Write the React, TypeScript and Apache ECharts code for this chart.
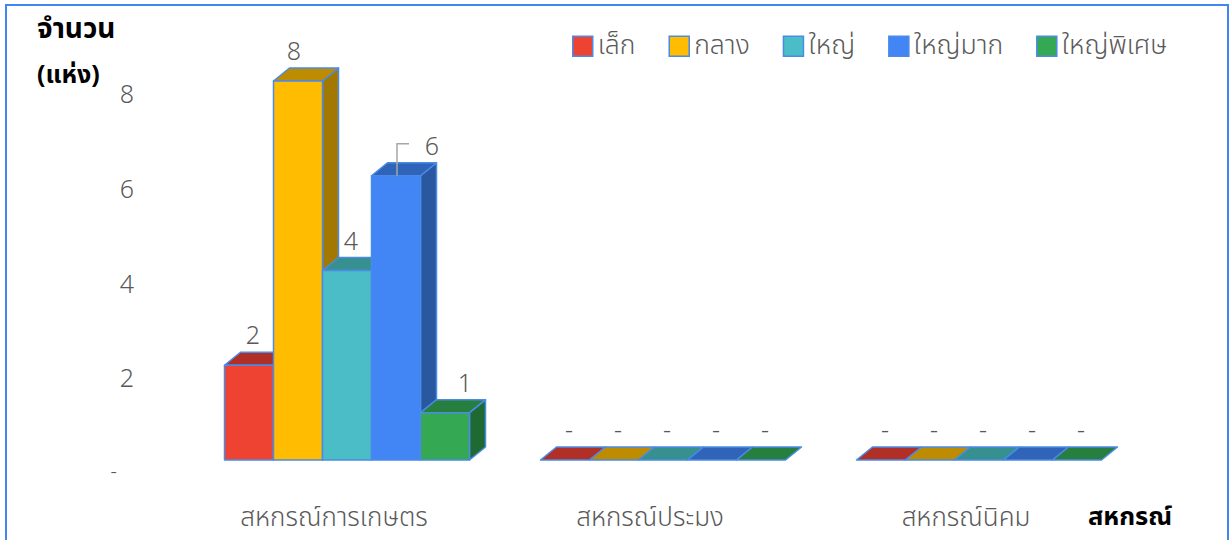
import React, { useEffect, useRef } from "react";
import * as echarts from "echarts";

const categories = ["สหกรณ์การเกษตร", "สหกรณ์ประมง", "สหกรณ์นิคม"];
const levels = ["เล็ก", "กลาง", "ใหญ่", "ใหญ่มาก", "ใหญ่พิเศษ"];
const small = [2, 0, 0];
const medium = [8, 0, 0];
const large = [4, 0, 0];
const veryLarge = [6, 0, 0];
const extraLarge = [1, 0, 0];
const seriesValues = [small, medium, large, veryLarge, extraLarge];
const yTicks = [0, 2, 4, 6, 8];

const FONT = '"Noto Sans Thai", "Noto Sans", "Noto Sans CJK SC", sans-serif';
const frontColors = ["#EE4332", "#FFBC00", "#4ABDC6", "#4285F4", "#34A853"];
const topColors = ["#B02F27", "#BD8C00", "#35908F", "#2F64B8", "#277F3F"];
const sideColors = ["#A32A22", "#A37800", "#2F7F80", "#2957A0", "#1F6A33"];
const EDGE = "#4A8AE8";
const TEXT = "#595959";
const BAR_W = 49;
const DEPTH_X = 16;
const DEPTH_Y = 13;
const labelShift = [4, -4, 4, 36, 20];

function renderBar(s: number) {
  return (_params: any, api: any) => {
    const cat = api.value(0);
    const val = api.value(1);
    const base = api.coord([cat, 0]);
    const top = api.coord([cat, val]);
    const x0 = base[0] + 13 + (s - 2.5) * BAR_W;
    const x1 = x0 + BAR_W;
    const yB = base[1] - 12;
    const yT = top[1] - 12;
    const stroke = { stroke: EDGE, lineWidth: 1.5, lineJoin: "round" };
    const children: any[] = [];
    if (val > 0) {
      children.push({
        type: "polygon",
        shape: { points: [[x1, yT], [x1 + DEPTH_X, yT - DEPTH_Y], [x1 + DEPTH_X, yB - DEPTH_Y], [x1, yB]] },
        style: { fill: sideColors[s], ...stroke },
      });
    }
    children.push({
      type: "polygon",
      shape: { points: [[x0, yT], [x0 + DEPTH_X, yT - DEPTH_Y], [x1 + DEPTH_X, yT - DEPTH_Y], [x1, yT]] },
      style: { fill: topColors[s], ...stroke },
    });
    if (val > 0) {
      children.push({
        type: "rect",
        shape: { x: x0, y: yT, width: BAR_W, height: yB - yT },
        style: { fill: frontColors[s], ...stroke },
      });
    }
    const cx = x0 + BAR_W / 2;
    const shift = val > 0 ? labelShift[s] : 4;
    const labelY = yT - DEPTH_Y - 16;
    children.push({
      type: "text",
      x: cx + shift,
      y: labelY,
      style: {
        text: val > 0 ? String(val) : "-",
        fill: TEXT,
        font: `300 25px ${FONT}`,
        align: "center",
        verticalAlign: "middle",
      },
    });
    if (val > 0 && shift > 30) {
      children.push({
        type: "polyline",
        shape: { points: [[cx + 1, yT], [cx + 1, labelY - 3], [cx + 13, labelY - 3]] },
        style: { stroke: "#A6A6A6", lineWidth: 1.5, fill: "none" },
      });
    }
    return { type: "group", children };
  };
}

export default function App() {
  const ref = useRef<HTMLDivElement>(null);
  useEffect(() => {
    const chart = echarts.init(ref.current!, undefined, { renderer: "svg" });
    chart.setOption({
      animation: false,
      backgroundColor: "#FFFFFF",
      textStyle: { fontFamily: FONT },
      grid: { left: 176, right: 106, top: 93, bottom: 68 },
      legend: {
        data: levels.map((name, i) => ({
          name,
          icon: "rect",
          itemStyle: { color: frontColors[i], borderColor: EDGE, borderWidth: 1.5 },
        })),
        left: 572,
        top: 33,
        padding: 0,
        itemWidth: 20,
        itemHeight: 20,
        itemGap: 33,
        textStyle: { fontSize: 26.5, fontWeight: 300, color: TEXT, fontFamily: FONT },
      },
      xAxis: {
        type: "category",
        data: categories,
        axisLine: { show: false },
        axisTick: { show: false },
        axisLabel: { fontSize: 26, fontWeight: 300, color: TEXT, fontFamily: FONT, margin: 33, interval: 0 },
      },
      yAxis: {
        type: "value",
        min: yTicks[0],
        max: yTicks[yTicks.length - 1],
        interval: yTicks[1] - yTicks[0],
        axisLine: { show: false },
        axisTick: { show: false },
        splitLine: { show: false },
        axisLabel: {
          fontSize: 25,
          fontWeight: 300,
          color: TEXT,
          fontFamily: FONT,
          margin: 42,
          padding: [4, 0, 0, 0],
          formatter: (v: number) => (v === 0 ? "{dash|-}" : String(v)),
          rich: { dash: { fontSize: 20, fontWeight: 300, color: TEXT, padding: [0, 17, 4, 0] } },
        },
      },
      series: levels.map((name, s) => ({
        name,
        type: "custom",
        itemStyle: { color: frontColors[s] },
        clip: false,
        encode: { x: 0, y: 1 },
        data: categories.map((_, c) => [c, seriesValues[s][c]]),
        renderItem: renderBar(s),
      })),
      graphic: [
        {
          type: "rect",
          silent: true,
          z: -1,
          shape: { x: 6, y: 5, width: 1222, height: 545 },
          style: { fill: "none", stroke: "#4285F4", lineWidth: 2 },
        },
        {
          type: "text",
          left: 37,
          top: 15,
          style: { text: "จำนวน", font: `bold 28px ${FONT}`, fill: "#000000" },
        },
        {
          type: "text",
          left: 37,
          top: 62,
          style: { text: "(แห่ง)", font: `bold 25px ${FONT}`, fill: "#000000" },
        },
        {
          type: "text",
          left: 1088,
          top: 504,
          style: { text: "สหกรณ์", font: `bold 25.5px ${FONT}`, fill: "#000000" },
        },
      ],
    });
    return () => chart.dispose();
  }, []);
  return <div ref={ref} style={{ position: "absolute", left: 0, top: 0, width: 1230, height: 540 }} />;
}
